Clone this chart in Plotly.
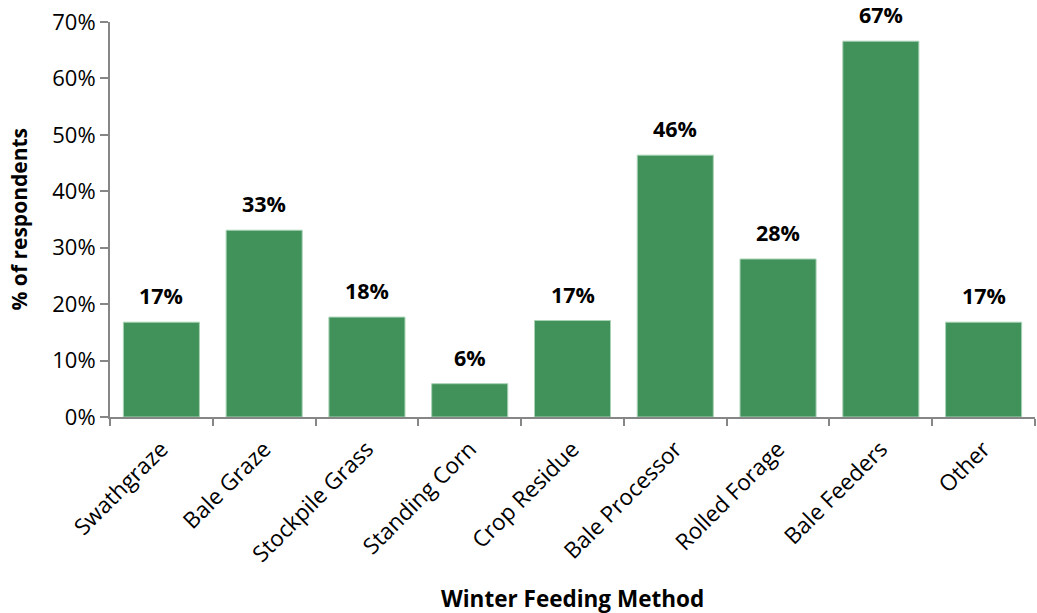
import plotly.graph_objects as go

# Winter feeding methods and share of respondents using each (%)
methods = ["Swathgraze", "Bale Graze", "Stockpile Grass", "Standing Corn", "Crop Residue",
           "Bale Processor", "Rolled Forage", "Bale Feeders", "Other"]
share = [16.8, 33.1, 17.7, 5.9, 17.1, 46.4, 28.0, 66.6, 16.8]
y_ticks = [0, 10, 20, 30, 40, 50, 60, 70]

FONT = "'Open Sans', 'Noto Sans', sans-serif"
BAR = "#41915A"
AXIS = "#868686"

fig = go.Figure(go.Bar(
    x=methods, y=share,
    marker=dict(color=BAR, line=dict(color="#a8d2b4", width=1)),
    hoverinfo="skip",
))

# Value labels above each bar
for m, v in zip(methods, share):
    fig.add_annotation(x=m, y=v, text=f"<b>{v:.0f}%</b>", showarrow=False,
                       yanchor="bottom", yshift=10,
                       font=dict(family=FONT, size=21.5, color="black"))

# Axis titles
fig.add_annotation(xref="paper", yref="paper", x=0.5, y=0, yshift=-181,
                   text="<b>Winter Feeding Method</b>", showarrow=False,
                   yanchor="middle", font=dict(family=FONT, size=22.5, color="black"))
fig.add_annotation(xref="paper", yref="paper", x=0, y=0.5, xshift=-92,
                   text="<b>% of respondents</b>", showarrow=False, textangle=-90,
                   xanchor="center", yanchor="middle",
                   font=dict(family=FONT, size=21, color="black"))

fig.update_layout(
    width=1037, height=613,
    margin=dict(l=110, r=2, t=22, b=196),
    plot_bgcolor="white", paper_bgcolor="white",
    bargap=0.26, showlegend=False,
    font=dict(family=FONT, size=20, color="black"),
)
fig.update_xaxes(
    showline=True, linecolor=AXIS, linewidth=2,
    ticks="outside", ticklen=7, tickcolor=AXIS, tickwidth=2,
    tickson="boundaries", tickangle=-45, ticklabelstandoff=8,
    tickfont=dict(family=FONT, size=22.5, color="black"),
    showgrid=False,
)
fig.update_yaxes(
    range=[0, 70], tickvals=y_ticks, ticktext=[f"{t}%" for t in y_ticks],
    showline=True, linecolor=AXIS, linewidth=2,
    ticks="outside", ticklen=8, tickcolor=AXIS, tickwidth=2,
    tickfont=dict(family=FONT, size=22, color="black"),
    showgrid=False, zeroline=False,
)

fig.write_html("out.html")
